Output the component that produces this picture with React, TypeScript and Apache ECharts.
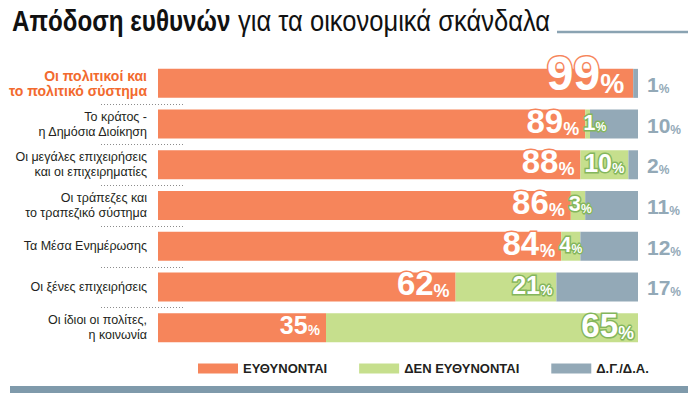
import React, { useEffect, useRef } from 'react';
import * as echarts from 'echarts';

const categories = [
  'Οι πολιτικοί και\nτο πολιτικό σύστημα',
  'Το κράτος -\nη Δημόσια Διοίκηση',
  'Οι μεγάλες επιχειρήσεις\nκαι οι επιχειρηματίες',
  'Οι τράπεζες και\nτο τραπεζικό σύστημα',
  'Τα Μέσα Ενημέρωσης',
  'Οι ξένες επιχειρήσεις',
  'Οι ίδιοι οι πολίτες,\nη κοινωνία',
];
const responsible = [99, 89, 88, 86, 84, 62, 35];
const notResponsible = [0, 1, 10, 3, 4, 21, 65];
const dontKnow = [1, 10, 2, 11, 12, 17, 0];
const seriesNames = ['ΕΥΘΥΝΟΝΤΑΙ', 'ΔΕΝ ΕΥΘΥΝΟΝΤΑΙ', 'Δ.Γ./Δ.Α.'];
const titleBold = 'Απόδοση ευθυνών';
const titleRegular = 'για τα οικονομικά σκάνδαλα';

const FONT = "'Liberation Sans', Arial, sans-serif";
const ORANGE = '#f6855b';
const GREEN = '#c6df8d';
const GREY = '#93a9b7';
const GREEN_DARK = '#84b65c';
const TEXT_ORANGE = '#f26a2e';
const DARK = '#231f20';

function pctLabel(v: number, size: number, color: string, border: string | null, extra: any) {
  const base: any = {
    fontFamily: FONT,
    fontWeight: 'bold',
    color,
    verticalAlign: 'bottom',
    lineHeight: size,
  };
  if (border) {
    base.textBorderColor = border;
    base.textBorderWidth = 3;
  }
  return {
    show: v > 0,
    formatter: `{n|${v}}{p|%}`,
    rich: {
      n: { ...base, fontSize: size },
      p: { ...base, fontSize: Math.round(size * 0.56) },
    },
    ...extra,
  };
}

function orangeSize(v: number) {
  if (v >= 95) return 48;
  if (v >= 60) return 33;
  return 25;
}
function greenSize(v: number) {
  if (v >= 50) return 33;
  if (v >= 10) return 25;
  return 22;
}

export default function App() {
  const ref = useRef<HTMLDivElement>(null);
  useEffect(() => {
    document.body.style.margin = '0';
    const chart = echarts.init(ref.current!, undefined, { renderer: 'svg' });

    const option: any = {
      animation: false,
      grid: { left: 158, right: 62, top: 63, height: 285 },
      legend: {
        left: 193,
        top: 357,
        icon: 'rect',
        itemWidth: 40,
        itemHeight: 10,
        itemGap: 32,
        selectedMode: false,
        textStyle: { fontFamily: FONT, fontWeight: 'bold', fontSize: 13, color: DARK },
        data: seriesNames,
      },
      xAxis: { type: 'value', min: 0, max: 100, show: false },
      yAxis: {
        type: 'category',
        inverse: true,
        data: categories,
        axisLine: { show: false },
        axisTick: { show: false },
        splitLine: { show: false },
        axisLabel: {
          margin: 11,
          formatter: (value: string, idx: number) =>
            value
              .split('\n')
              .map((l) => (idx === 0 ? `{hl|${l}}` : `{n|${l}}`))
              .join('\n'),
          rich: {
            hl: { fontFamily: FONT, fontWeight: 'bold', fontSize: 14, lineHeight: 15, color: TEXT_ORANGE, align: 'right' },
            n: { fontFamily: FONT, fontSize: 12.5, lineHeight: 15, color: DARK, align: 'right' },
          },
        },
      },
      series: [
        {
          name: seriesNames[0],
          type: 'bar',
          stack: 'total',
          barWidth: 29,
          itemStyle: { color: ORANGE },
          data: responsible.map((v) => ({
            value: v,
            label: pctLabel(v, orangeSize(v), '#fff', ORANGE, {
              position: 'insideRight',
              distance: v >= 95 ? 9 : 6,
              offset: [0, v >= 95 ? -10 : -3],
            }),
          })),
        },
        {
          name: seriesNames[1],
          type: 'bar',
          stack: 'total',
          barWidth: 29,
          itemStyle: { color: GREEN },
          data: notResponsible.map((v) => ({
            value: v,
            label: pctLabel(v, greenSize(v), '#fff', GREEN_DARK, {
              position: v < 5 ? 'insideLeft' : 'insideRight',
              distance: v < 5 ? -2 : 4,
              offset: [0, -2],
            }),
          })),
        },
        {
          name: seriesNames[2],
          type: 'bar',
          stack: 'total',
          barWidth: 29,
          itemStyle: { color: GREY },
          data: dontKnow.map((v) => ({
            value: v,
            label: pctLabel(v, 21, GREY, null, {
              position: 'right',
              distance: 9,
              offset: [0, 1],
            }),
          })),
        },
      ],
    };
    chart.setOption(option);

    const centers = categories.map((c, i) => chart.convertToPixel({ yAxisIndex: 0 }, i) as number);
    const graphics: any[] = [
      {
        type: 'text',
        x: 12,
        y: 21,
        scaleX: 0.807,
        style: {
          text: titleBold,
          fontFamily: FONT,
          fontWeight: 'bold',
          fontSize: 30,
          fill: '#111',
          verticalAlign: 'middle',
        },
      },
      {
        type: 'text',
        x: 238,
        y: 21,
        scaleX: 0.852,
        style: {
          text: titleRegular,
          fontFamily: FONT,
          fontSize: 30,
          fill: '#111',
          verticalAlign: 'middle',
        },
      },
      {
        type: 'line',
        shape: { x1: 557, y1: 32, x2: 688, y2: 32 },
        style: { stroke: '#8aa3b2', lineWidth: 2.5 },
      },
      {
        type: 'rect',
        shape: { x: 10, y: 386, width: 678, height: 7 },
        style: { fill: '#7f9aab' },
      },
    ];
    for (let i = 0; i < centers.length - 1; i++) {
      const y = Math.round((centers[i] + centers[i + 1]) / 2) + 0.5;
      graphics.push({
        type: 'line',
        shape: { x1: 101, y1: y, x2: 185, y2: y },
        style: { stroke: '#8c8c8c', lineWidth: 1, lineDash: [1, 2] },
      });
    }
    chart.setOption({ graphic: { elements: graphics } });

    return () => chart.dispose();
  }, []);
  return <div ref={ref} style={{ width: 700, height: 397 }} />;
}
